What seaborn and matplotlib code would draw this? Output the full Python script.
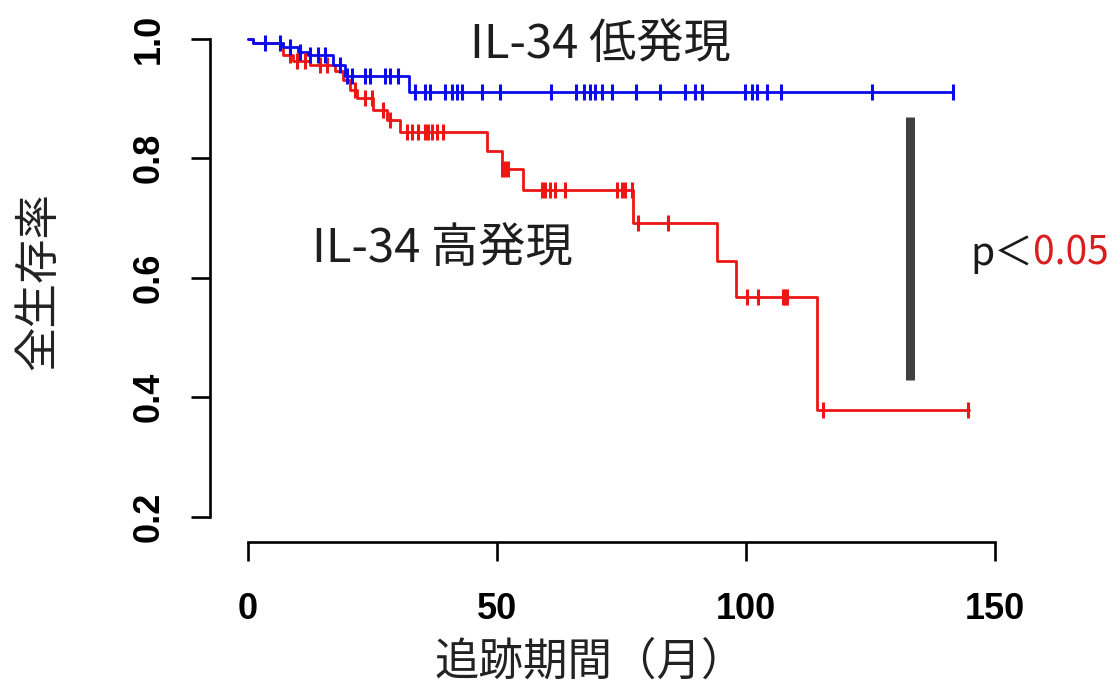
import matplotlib
matplotlib.use("Agg")
import matplotlib.pyplot as plt
import numpy as np
import seaborn as sns

# Kaplan-Meier curves (months, survival)
low_times = [0, 1, 7, 10, 12, 17, 19.5, 32.3]
low_surv = [1.0, 0.993, 0.985, 0.978, 0.972, 0.955, 0.938, 0.911]
low_end = 141.6
low_censor = [3.4, 6.4, 8.4, 10.4, 12.4, 14, 15.5, 18.5, 19.9, 20.9, 23.5, 24.5, 27.5,
              28.5, 30.1, 33.5, 35.5, 36.5, 39.6, 41.0, 42.0, 43.0, 47.0, 50.6, 60.8,
              65.9, 67.5, 68.7, 69.7, 71.1, 73.1, 77.9, 82.7, 87.8, 89.8, 91.2, 99.8,
              101.2, 102.2, 104.2, 107.0, 125.3, 141.6]

high_times = [0, 1, 7.0, 9.0, 12.4, 17.5, 19.0, 20.5, 21.9, 25.1, 27.9, 30.5, 48.0,
              51.0, 55.2, 77.3, 94.2, 98.0, 114.3]
high_surv = [1.0, 0.993, 0.972, 0.962, 0.955, 0.945, 0.930, 0.914, 0.900, 0.880, 0.864,
             0.843, 0.811, 0.781, 0.746, 0.692, 0.627, 0.568, 0.379]
high_end = 144.8
high_censor = [8.4, 9.8, 11.4, 14.5, 15.9, 21.5, 23.5, 24.9, 27.1, 28.5, 31.9, 32.9, 34.1,
               35.5, 36.1, 36.9, 38.0, 39.2, 51.0, 51.6, 52.2, 59.0, 59.6, 60.6, 61.6,
               63.7, 74.1, 75.1, 75.7, 77.1, 78.3, 84.3, 100.2, 102.4, 107.4, 107.8,
               108.2, 115.5, 144.5]

x_ticks = [0, 50, 100, 150]
y_ticks = [0.2, 0.4, 0.6, 0.8, 1.0]

sns.set_theme(style="white")
plt.rcParams['font.family'] = ['Noto Sans CJK JP', 'DejaVu Sans']

fig = plt.figure(figsize=(11.18, 6.95), dpi=100)
ax = fig.add_axes([210 / 1118, (695 - 542) / 695, 800 / 1118, 517 / 695])


def km(times, surv, end, censor, color):
    xs = list(times) + [end]
    ys = list(surv) + [surv[-1]]
    sns.lineplot(x=xs, y=ys, drawstyle="steps-post", color=color, lw=2.0,
                 estimator=None, sort=False, ax=ax)
    idx = np.searchsorted(times, censor, side="right") - 1
    cy = np.array(surv)[idx]
    sns.scatterplot(x=censor, y=cy, marker="|", s=120, linewidth=2.2,
                    color=color, ax=ax, zorder=3)


km(high_times, high_surv, high_end, high_censor, "#ee1515")
km(low_times, low_surv, low_end, low_censor, "#0a0af0")

ax.set_xlim(-7.63, 153.0)
ax.set_ylim(0.1574, 1.0226)

# R style axes
for s in ["top", "right"]:
    ax.spines[s].set_visible(False)
ax.spines["left"].set_bounds(0.2, 1.0)
ax.spines["bottom"].set_bounds(0, 150)
for s in ["left", "bottom"]:
    ax.spines[s].set_linewidth(1.9)
    ax.spines[s].set_color("black")

ax.set_xticks(x_ticks)
ax.set_yticks(y_ticks)
ax.set_xticklabels([str(v) for v in x_ticks])
ax.set_yticklabels(["%.1f" % v for v in y_ticks], rotation=90, va="center")
ax.tick_params(axis="both", direction="out", length=14, width=1.9, color="black",
               left=True, bottom=True)
ax.tick_params(axis="x", pad=22)
ax.tick_params(axis="y", pad=17)
for lab in ax.get_xticklabels() + ax.get_yticklabels():
    lab.set_fontfamily("Liberation Sans")
    lab.set_fontweight("bold")
    lab.set_fontsize(26)
    lab.set_color("black")

ax.set_xlabel("追跡期間（月）", fontsize=32, color="#222222")
ax.set_ylabel("全生存率", fontsize=32, color="#222222")
ax.xaxis.set_label_coords(0.475, -0.232)
ax.yaxis.set_label_coords(-0.215, 0.505)
ax.xaxis.label.set_va("center")
ax.yaxis.label.set_va("center")

# group labels
ax.text(44.6, 0.967, "IL-34 低発現", fontsize=34, color="#1e1e1e", va="baseline")
ax.text(12.9, 0.626, "IL-34 高発現", fontsize=34, color="#1e1e1e", va="baseline")

# significance bar and p value
ax.plot([132.9, 132.9], [0.428, 0.869], color="#404040", lw=6.5, solid_capstyle="butt")
t1 = ax.text(145.0, 0.621, "p＜", fontsize=28, color="#1a1a1a", va="baseline")
ax.annotate("0.05", xy=(1, 0), xycoords=t1, va="bottom", ha="left",
            fontsize=28, color="#d81e1e")

fig.savefig("out.png", dpi=100)
